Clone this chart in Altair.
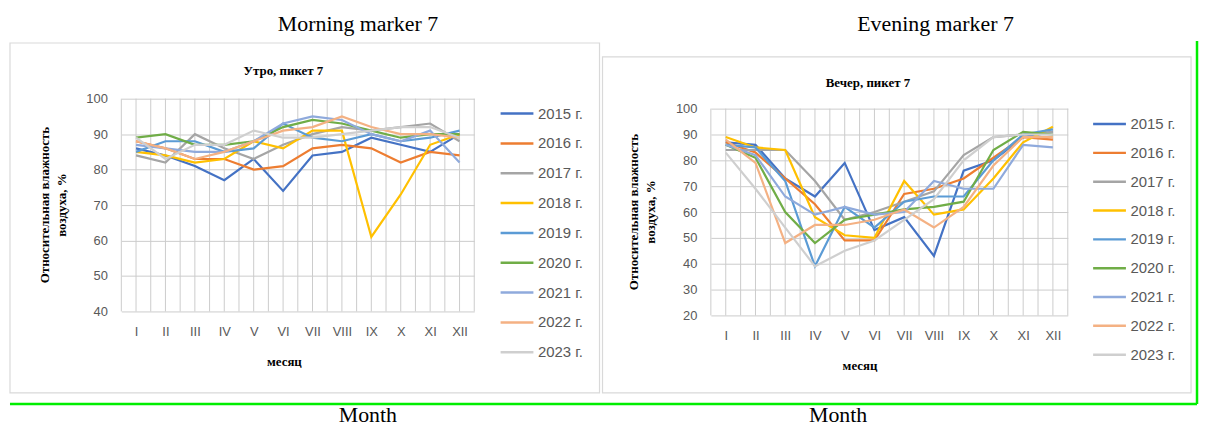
import altair as alt
import pandas as pd

months = ["I", "II", "III", "IV", "V", "VI", "VII", "VIII", "IX", "X", "XI", "XII"]
years = ["2015 г.", "2016 г.", "2017 г.", "2018 г.", "2019 г.", "2020 г.", "2021 г.", "2022 г.", "2023 г."]
colors = ["#4472c4", "#ed7d31", "#a5a5a5", "#ffc000", "#5b9bd5", "#70ad47", "#8faadc", "#f4b183", "#cfcfcf"]

# Morning (Утро), relative humidity %
m2015 = [86, 84, 81, 77, 83, 74, 84, 85, 89, 87, 85, 90]
m2016 = [88, 86, 83, 83, 80, 81, 86, 87, 86, 82, 85, 84]
m2017 = [84, 82, 90, 86, 83, 87, 90, 92, 91, 92, 93, 88]
m2018 = [85, 84, 82, 83, 88, 86, 91, 91, 61, 73, 87, 90]
m2019 = [85, 88, 88, 85, 86, 93, 89, 88, 90, 88, 89, 91]
m2020 = [89, 90, 87, 87, 88, 92, 94, 93, 91, 89, 90, 90]
m2021 = [87, 86, 85, 85, 88, 93, 95, 94, 90, 88, 91, 82]
m2022 = [88, 86, 83, 85, 88, 91, 92, 95, 92, 90, 90, 89]
m2023 = [89, 83, 87, 87, 91, 89, 89, 90, 91, 92, 92, 89]

# Evening (Вечер), relative humidity %
e2015 = [87, 86, 73, 66, 79, 53, 58, 43, 76, 80, 89, 91]
e2016 = [87, 83, 73, 63, 49, 49, 67, 69, 73, 81, 89, 88]
e2017 = [84, 84, 84, 72, 57, 60, 64, 68, 82, 89, 90, 91]
e2018 = [89, 85, 84, 58, 51, 50, 72, 59, 61, 73, 87, 93]
e2019 = [86, 85, 72, 39, 62, 54, 64, 66, 66, 80, 90, 92]
e2020 = [86, 81, 60, 48, 57, 59, 61, 62, 64, 84, 91, 90]
e2021 = [86, 82, 66, 59, 62, 59, 60, 72, 69, 69, 86, 85]
e2022 = [88, 79, 48, 55, 55, 57, 61, 54, 62, 78, 89, 89]
e2023 = [83, 69, 54, 39, 45, 49, 57, 65, 80, 89, 90, 90]

morning_series = [m2015, m2016, m2017, m2018, m2019, m2020, m2021, m2022, m2023]
evening_series = [e2015, e2016, e2017, e2018, e2019, e2020, e2021, e2022, e2023]

SERIF = "Liberation Serif"
SANS = "Liberation Sans"
GRID = "#cccccc"
LABEL = "#595959"


def long_df(series):
    rows = []
    for yr, vals in zip(years, series):
        for i, v in enumerate(vals):
            rows.append({"year": yr, "m": i + 1, "v": v})
    return pd.DataFrame(rows)


morning = long_df(morning_series)
evening = long_df(evening_series)
grid_df = pd.DataFrame({"g": [k / 2 for k in range(1, 26)]})
one = pd.DataFrame({"k": [0]})

label_expr = "[" + ",".join(f"'{m}'" for m in months) + "][datum.value - 1]"
xscale = alt.Scale(domain=[0.5, 12.5], nice=False, zero=False)
xaxis = alt.Axis(values=list(range(1, 13)), labelExpr=label_expr, title=None, grid=False,
                 ticks=False, domain=False, labelFont=SANS, labelFontSize=13, labelColor=LABEL,
                 labelPadding=14, labelAngle=0, labelOverlap=False, labelFlush=False, labelBound=False)


def text_layer(txt, x, y, size, bold=False, font=SERIF, angle=0, color="#000000"):
    df = pd.DataFrame({"t": [txt]})
    kw = dict(font=font, fontSize=size, fontWeight="bold" if bold else "normal", align="center",
              baseline="middle", color=color, lineBreak="\n", lineHeight=17)
    if angle:
        kw["angle"] = angle
    return alt.Chart(df).mark_text(**kw).encode(x=alt.value(x), y=alt.value(y), text="t:N")


def panel(df, ydom, yvals, yrange, width, height, legend_x, legend_y, clip_h,
          title, title_xy, xt_xy, yt_xy, outer, outer_xy, month_xy, box):
    yscale = alt.Scale(domain=ydom, range=yrange, nice=False, zero=False)
    yaxis = alt.Axis(values=yvals, title=None, grid=True, gridColor=GRID, gridWidth=1, ticks=False,
                     domain=False, labelFont=SANS, labelFontSize=13, labelColor=LABEL, labelPadding=14)
    anchor = alt.Chart(one).mark_rect(opacity=0).encode(
        x=alt.value(-114), x2=alt.value(-113), y=alt.value(-90), y2=alt.value(-89))
    frame = alt.Chart(one).mark_rect(fill="transparent", stroke="#d9d9d9", strokeWidth=1.2).encode(
        x=alt.value(box[0]), x2=alt.value(box[1]), y=alt.value(box[2]), y2=alt.value(box[3]))
    vgrid = alt.Chart(grid_df).mark_rule(color=GRID, strokeWidth=1).encode(
        x=alt.X("g:Q", scale=xscale, axis=xaxis),
        y=alt.YDatum(ydom[0], scale=yscale, axis=yaxis),
        y2=alt.Y2Datum(ydom[1]))
    lines = alt.Chart(df).mark_line(strokeWidth=2.2).encode(
        x=alt.X("m:Q", scale=xscale, axis=xaxis),
        y=alt.Y("v:Q", scale=yscale, axis=yaxis),
        color=alt.Color("year:N", scale=alt.Scale(domain=years, range=colors),
                        legend=alt.Legend(title=None, orient="none", legendX=legend_x, legendY=legend_y,
                                          symbolType="stroke", symbolSize=1089, symbolStrokeWidth=2.5,
                                          clipHeight=clip_h, rowPadding=0, padding=0,
                                          labelFont=SANS, labelFontSize=15, labelColor=LABEL,
                                          labelOffset=3)),
    )
    layers = [anchor, frame, vgrid, lines,
              text_layer(title, title_xy[0], title_xy[1], 13, bold=True),
              text_layer("месяц", xt_xy[0], xt_xy[1], 13, bold=True),
              text_layer("Относительная влажность\nвоздуха, %", yt_xy[0], yt_xy[1], 13, bold=True, angle=270),
              text_layer(outer, outer_xy[0], outer_xy[1], 22),
              text_layer("Month", month_xy[0], month_xy[1], 22)]
    return alt.layer(*layers).properties(width=width, height=height)


left = panel(morning, [40, 100], list(range(40, 101, 10)), [214, 0], 355, 214, 380, 0, 30,
             "Утро, пикет 7", (163, -28), (164, 265), (-77, 107),
             "Morning marker 7", (238, -75), (248, 318), (-112, 481, -56, 296))

green_h = alt.Chart(one).mark_rule(color="#00ee00", strokeWidth=2.5).encode(
    x=alt.value(-705), x2=alt.value(489), y=alt.value(307))
green_v = alt.Chart(one).mark_rule(color="#00ee00", strokeWidth=2.5).encode(
    x=alt.value(489), y=alt.value(-58), y2=alt.value(307))

right_core = panel(evening, [20, 100], list(range(20, 101, 10)), [218, 10], 359, 218, 383, 11, 29,
                   "Вечер, пикет 7", (158, -16), (150, 269), (-77, 114),
                   "Evening marker 7", (226, -75), (128, 318), (-109, 483, -42, 296))
right = alt.layer(right_core, green_h, green_v)

chart = alt.hconcat(left, right, spacing=238, bounds="flush").resolve_scale(
    color="independent"
).resolve_legend(color="independent").properties(
    padding=0, background="white"
).configure_view(stroke=None)

chart.save("out.html", embed_options={"renderer": "svg", "actions": False})
